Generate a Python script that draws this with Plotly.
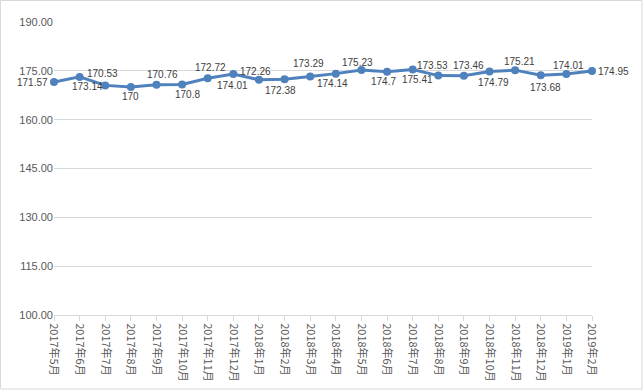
import plotly.graph_objects as go

months = ["2017年5月", "2017年6月", "2017年7月", "2017年8月", "2017年9月", "2017年10月",
          "2017年11月", "2017年12月", "2018年1月", "2018年2月", "2018年3月", "2018年4月",
          "2018年5月", "2018年6月", "2018年7月", "2018年8月", "2018年9月", "2018年10月",
          "2018年11月", "2018年12月", "2019年1月", "2019年2月"]
values = [171.57, 173.14, 170.53, 170, 170.76, 170.8, 172.72, 174.01, 172.26, 172.38,
          173.29, 174.14, 175.23, 174.7, 175.41, 173.53, 173.46, 174.79, 175.21, 173.68,
          174.01, 174.95]
y_ticks = [100, 115, 130, 145, 160, 175, 190]

# label placement offsets in pixels (dx, dy up), layout only
label_offsets = [(-4, 0), (8, -10), (-3, 12), (0, -9), (6, 10), (5, -10), (3, 11),
                 (-1, -11), (-3, 8), (-4, -11), (-2, 13), (-3, -10), (-4, 8), (-4, -10),
                 (5, -10), (-6, 10), (5, 10), (4, -11), (4, 9), (5, -12), (2, 9), (4, 0)]

xs = list(range(len(months)))
fig = go.Figure(go.Scatter(
    x=xs, y=values, mode="lines+markers",
    line=dict(color="#4F81BD", width=3),
    marker=dict(color="#4F81BD", size=8),
    cliponaxis=False, showlegend=False,
))

annotations = []
for i, (x, v) in enumerate(zip(xs, values)):
    dx, dy = label_offsets[i]
    anchor = "center"
    if i == 0:
        anchor = "right"
    elif i == len(xs) - 1:
        anchor = "left"
    annotations.append(dict(
        x=x, y=v, xref="x", yref="y", text=f"{v:g}", showarrow=False,
        xanchor=anchor, yanchor="middle", xshift=dx, yshift=dy,
        font=dict(size=10, color="#404040", family="Liberation Sans, Noto Sans CJK SC"),
    ))

fig.update_layout(
    width=643, height=390,
    margin=dict(l=54, r=51, t=22, b=75),
    paper_bgcolor="white", plot_bgcolor="white",
    font=dict(family="Liberation Sans, Noto Sans CJK SC", color="#595959", size=11),
    annotations=annotations,
    xaxis=dict(
        tickmode="array", tickvals=xs, ticktext=months,
        tickangle=90, range=[0, len(months) - 1], automargin=False,
        showgrid=False, showline=True, linecolor="#D9D9D9", linewidth=1,
        ticks="outside", ticklen=5, tickcolor="#D9D9D9",
        tickfont=dict(size=11, color="#595959", family="Noto Sans CJK SC"),
        zeroline=False,
    ),
    yaxis=dict(
        range=[100, 190], tickvals=y_ticks, tickformat=".2f", automargin=False,
        showgrid=True, gridcolor="#D9D9D9", gridwidth=1,
        showline=False, zeroline=False, ticks="",
        tickfont=dict(size=11, color="#595959"),
    ),
    shapes=[dict(type="rect", xref="paper", yref="paper",
                 x0=-53.5/538, x1=1 + 50/538, y0=-74/293, y1=1 + 21.5/293,
                 line=dict(color="#D9D9D9", width=1))],
)

fig.write_html("out.html", config={"displayModeBar": False},
               post_script="document.body.style.margin='0';document.body.style.overflow='hidden';")
